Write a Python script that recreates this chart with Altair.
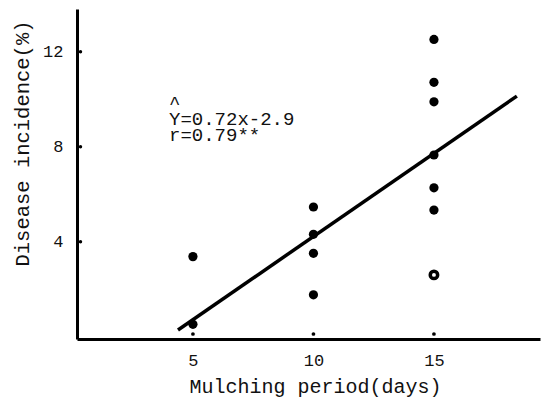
import altair as alt
import pandas as pd

# Data
days = [5, 5, 10, 10, 10, 10, 15, 15, 15, 15, 15, 15]
incidence = [3.37, 0.52, 5.46, 4.31, 3.51, 1.76, 12.52, 10.71, 9.89, 7.65, 6.27, 5.33]
open_days = [15]
open_incidence = [2.6]
fit_days = [4.38, 18.44]
fit_incidence = [0.28, 10.13]
x_ticks = [5, 10, 15]
y_ticks = [4, 8, 12]
eq_lines = ["^", "Y=0.72x-2.9", "r=0.79**"]
x_title = "Mulching period(days)"
y_title = "Disease incidence(%)"

FONT = "Liberation Mono"

xs = alt.Scale(domain=[0.19, 19.4], nice=False, zero=False)
ys = alt.Scale(domain=[-0.1, 13.8], nice=False, zero=False)

pts = pd.DataFrame({"days": days, "inc": incidence})
opn = pd.DataFrame({"days": open_days, "inc": open_incidence})
fit = pd.DataFrame({"days": fit_days, "inc": fit_incidence})
xt = pd.DataFrame({"days": x_ticks})
yt = pd.DataFrame({"inc": y_ticks})

x_axis = alt.Axis(values=x_ticks, ticks=False, tickSize=0, labelPadding=13, grid=False,
                  title=x_title, titleX=238, titleY=47, titleBaseline="middle",
                  titleAnchor="start", titleAlign="center")
y_axis = alt.Axis(values=y_ticks, ticks=False, tickSize=0, labelPadding=14, grid=False,
                  title=y_title, titleX=-55, titleY=134, titleBaseline="middle",
                  titleAngle=-90, titleAlign="center", titleAnchor="start",
                  titleFontSize=20.5)

base_pts = alt.Chart(pts).mark_circle(size=85, color="black", opacity=1).encode(
    x=alt.X("days:Q", scale=xs, axis=x_axis),
    y=alt.Y("inc:Q", scale=ys, axis=y_axis),
)

open_pts = alt.Chart(opn).mark_point(shape="circle", size=55, filled=True, fill="white",
                                     stroke="black", strokeWidth=3.5, opacity=1).encode(
    x=alt.X("days:Q", scale=xs), y=alt.Y("inc:Q", scale=ys))

line = alt.Chart(fit).mark_line(color="black", strokeWidth=3.5, clip=False).encode(
    x=alt.X("days:Q", scale=xs), y=alt.Y("inc:Q", scale=ys))

xtick = alt.Chart(xt).mark_circle(size=14, color="black", opacity=1).encode(
    x=alt.X("days:Q", scale=xs), y=alt.value(325))
ytick = alt.Chart(yt).mark_circle(size=12, color="black", opacity=1).encode(
    y=alt.Y("inc:Q", scale=ys), x=alt.value(3.5))

eq = alt.Chart(pd.DataFrame({"t": ["\n".join(eq_lines)]})).mark_text(
    font=FONT, fontSize=19, align="left", baseline="alphabetic", color="#111",
    lineBreak="\n", lineHeight=16).encode(
    text="t:N", x=alt.value(92), y=alt.value(100))

chart = alt.layer(base_pts, open_pts, line, xtick, ytick, eq).properties(
    width=463, height=330,
    padding={"left": 69, "top": 1, "right": 1, "bottom": 60},
    autosize=alt.AutoSizeParams(type="none"),
    background="white",
).configure_view(stroke=None).configure_axis(
    domainColor="black", domainWidth=3,
    labelFont=FONT, labelFontSize=17, labelColor="#111",
    titleFont=FONT, titleFontSize=20, titleFontWeight="normal", titleColor="#111",
)

chart.save("out.html", embed_options={"renderer": "svg", "actions": False})
